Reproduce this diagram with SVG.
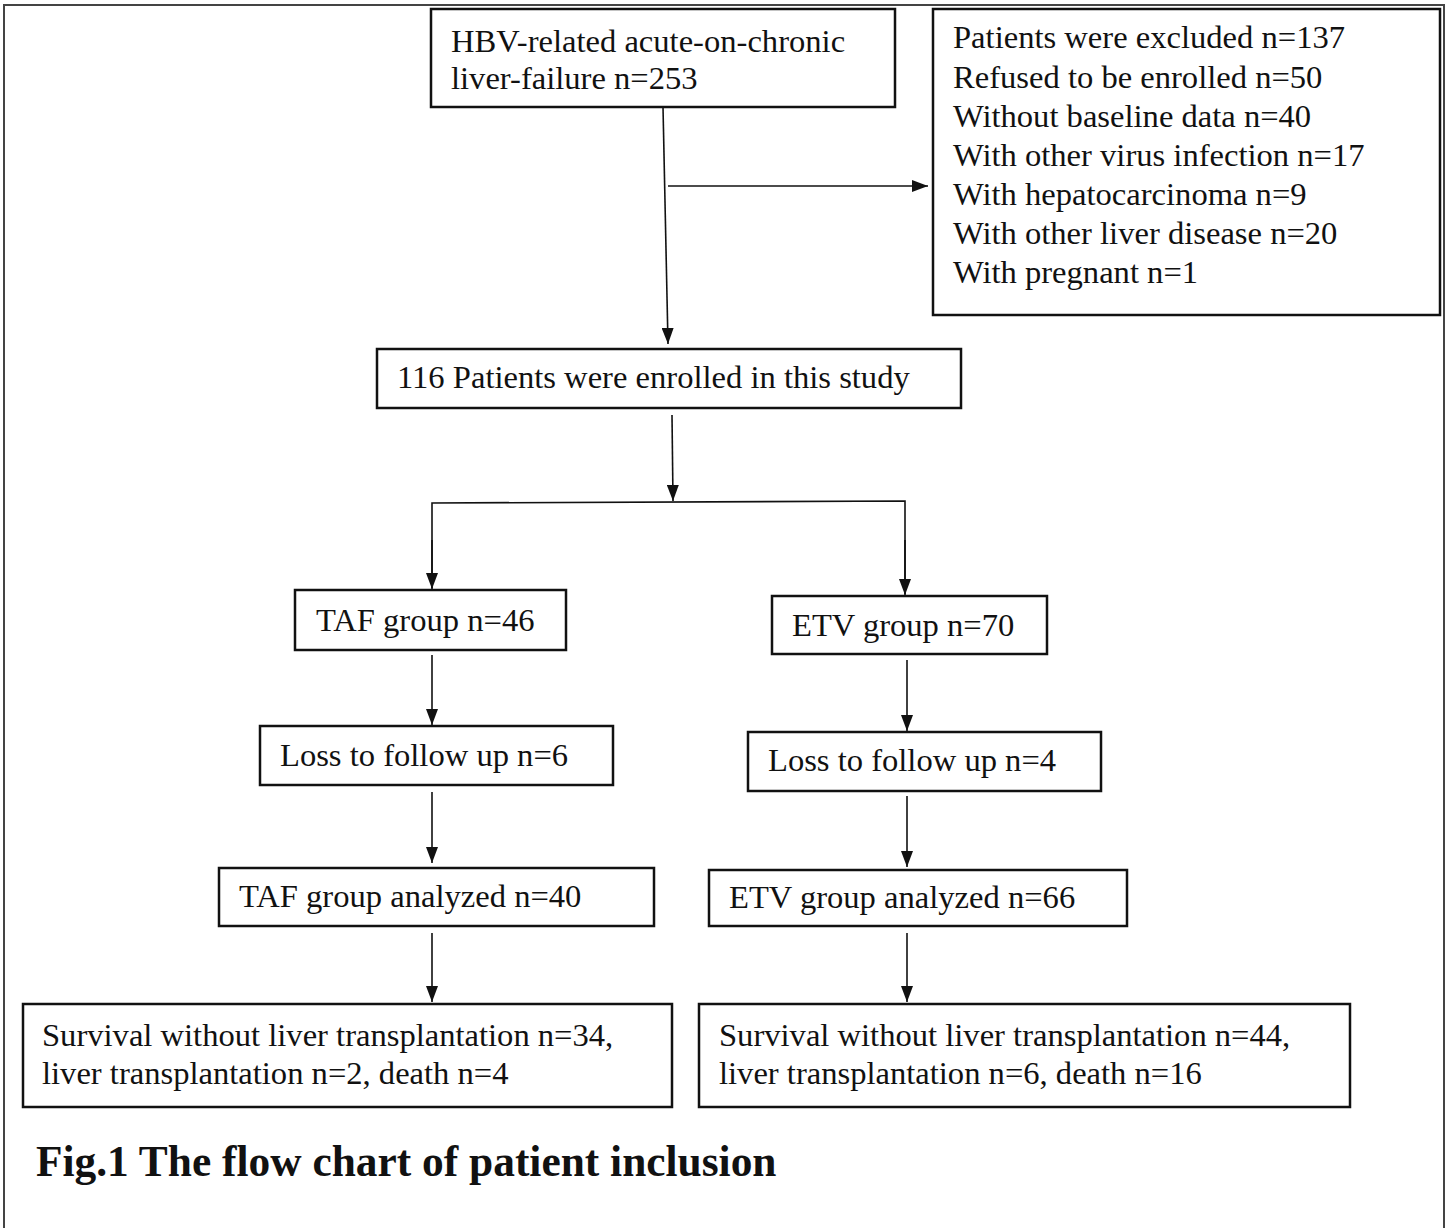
<svg xmlns="http://www.w3.org/2000/svg" width="1448" height="1228" viewBox="0 0 1448 1228">
<defs>
<style>
.box{fill:#fff;stroke:#111;stroke-width:2.5}
.t{font-family:"Liberation Serif","Times New Roman",serif;font-size:32.6px;fill:#111}
.c{fill:none;stroke:#111;stroke-width:1.6}
.cap{font-family:"Liberation Serif","Times New Roman",serif;font-size:43.4px;font-weight:bold;fill:#111}
</style>
<marker id="ah2" viewBox="0 0 16 12" refX="16" refY="6" markerWidth="16" markerHeight="12" markerUnits="userSpaceOnUse" orient="auto">
<path d="M0,0 L16,6 L0,12 z" fill="#111"/>
</marker>
</defs>
<rect x="0" y="0" width="1448" height="1228" fill="#fff"/>
<rect x="4" y="5" width="1440" height="1240" fill="none" stroke="#444" stroke-width="2"/>

<g id="connectors">
<line class="c" x1="663" y1="107" x2="668" y2="344" marker-end="url(#ah2)"/>
<line class="c" x1="668" y1="186" x2="928" y2="186" marker-end="url(#ah2)"/>
<line class="c" x1="672" y1="415" x2="673" y2="501" marker-end="url(#ah2)"/>
<polyline class="c" points="432,588 432,503 905,501 905,594" />
<line class="c" x1="432" y1="540" x2="432" y2="589" marker-end="url(#ah2)"/>
<line class="c" x1="905" y1="540" x2="905" y2="595" marker-end="url(#ah2)"/>
<line class="c" x1="432" y1="655" x2="432" y2="725" marker-end="url(#ah2)"/>
<line class="c" x1="907" y1="660" x2="907" y2="731" marker-end="url(#ah2)"/>
<line class="c" x1="432" y1="792" x2="432" y2="863" marker-end="url(#ah2)"/>
<line class="c" x1="907" y1="796" x2="907" y2="867" marker-end="url(#ah2)"/>
<line class="c" x1="432" y1="933" x2="432" y2="1002" marker-end="url(#ah2)"/>
<line class="c" x1="907" y1="933" x2="907" y2="1002" marker-end="url(#ah2)"/>
</g>

<g id="n-hbv">
<rect class="box" x="431" y="9" width="464" height="98"/>
<text class="t" x="451" y="52">HBV-related acute-on-chronic</text>
<text class="t" x="451" y="89">liver-failure n=253</text>
</g>

<g id="n-excluded">
<rect class="box" x="933" y="9" width="507" height="306"/>
<text class="t" x="953" y="48">Patients were excluded n=137</text>
<text class="t" x="953" y="88">Refused to be enrolled n=50</text>
<text class="t" x="953" y="127">Without baseline data n=40</text>
<text class="t" x="953" y="166">With other virus infection n=17</text>
<text class="t" x="953" y="205">With hepatocarcinoma n=9</text>
<text class="t" x="953" y="244">With other liver disease n=20</text>
<text class="t" x="953" y="283">With pregnant n=1</text>
</g>

<g id="n-enrolled">
<rect class="box" x="377" y="349" width="584" height="59"/>
<text class="t" x="397" y="388">116 Patients were enrolled in this study</text>
</g>

<g id="n-taf">
<rect class="box" x="295" y="590" width="271" height="60"/>
<text class="t" x="316" y="631">TAF group n=46</text>
</g>

<g id="n-etv">
<rect class="box" x="772" y="596" width="275" height="58"/>
<text class="t" x="792" y="636">ETV group n=70</text>
</g>

<g id="n-taf-loss">
<rect class="box" x="260" y="726" width="353" height="59"/>
<text class="t" x="280" y="766">Loss to follow up n=6</text>
</g>

<g id="n-etv-loss">
<rect class="box" x="748" y="732" width="353" height="59"/>
<text class="t" x="768" y="771">Loss to follow up n=4</text>
</g>

<g id="n-taf-analyzed">
<rect class="box" x="219" y="868" width="435" height="58"/>
<text class="t" x="239" y="907">TAF group analyzed n=40</text>
</g>

<g id="n-etv-analyzed">
<rect class="box" x="709" y="870" width="418" height="56"/>
<text class="t" x="729" y="908">ETV group analyzed n=66</text>
</g>

<g id="n-taf-outcome">
<rect class="box" x="23" y="1004" width="649" height="103"/>
<text class="t" x="42" y="1046">Survival without liver transplantation n=34,</text>
<text class="t" x="42" y="1084">liver transplantation n=2, death n=4</text>
</g>

<g id="n-etv-outcome">
<rect class="box" x="699" y="1004" width="651" height="103"/>
<text class="t" x="719" y="1046">Survival without liver transplantation n=44,</text>
<text class="t" x="719" y="1084">liver transplantation n=6, death n=16</text>
</g>

<text class="cap" x="36" y="1176">Fig.1 The flow chart of patient inclusion</text>
</svg>
